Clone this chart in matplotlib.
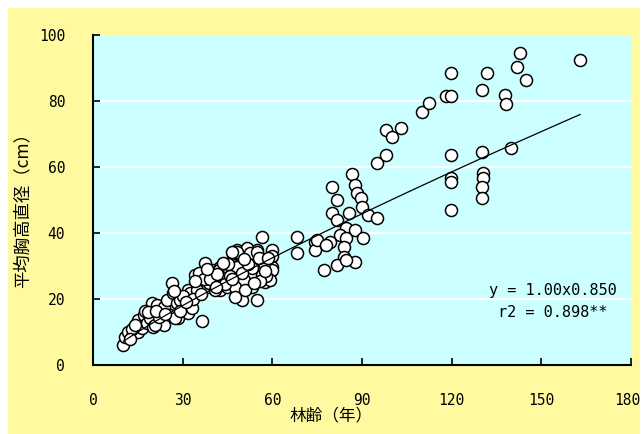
import numpy as np
import matplotlib.pyplot as plt
from matplotlib.patches import Rectangle
import matplotlib.transforms as mtransforms

plt.rcParams['font.family'] = ['DejaVu Sans Mono', 'Noto Sans CJK JP']

# stand age (years) and mean DBH (cm)
age_young = [10.2, 10.7, 11.8, 13.5, 15.2, 16.3, 15.2, 16.9, 18.0, 19.1, 19.7, 21.4,
             20.2, 22.5, 23.6, 23.6, 24.7, 26.4, 26.9, 28.1, 25.8, 28.6, 29.7, 30.8,
             31.9, 31.9, 20.8, 27.5, 33.1, 29.2, 36.4, 37.5, 34.2, 35.9, 40.3, 40.3,
             42.6, 42.6, 38.1, 45.9, 47.0, 48.2, 49.3, 49.3, 49.8, 52.1, 53.7, 53.2,
             54.9, 54.9, 56.6, 58.2, 59.3, 59.9, 57.7, 55.4, 51.5, 59.3, 59.9, 35.3,
             32.5, 34.8, 39.8, 38.7, 42.0, 43.1, 40.9, 44.8, 45.4, 47.6, 49.8, 51.5,
             48.7, 52.6, 53.2, 54.9, 48.2, 59.9, 56.6, 57.1, 53.2, 50.4, 47.6, 51.0,
             47.6, 59.3, 48.2, 46.5, 13.0, 17.5, 22.0, 30.0, 37.0, 44.0,
             12.5, 14.0, 18.5, 21.0, 24.0, 27.0, 29.0, 33.5, 36.0, 39.0, 41.5, 44.0,
             46.0, 50.0, 52.0, 55.5, 58.0, 60.0, 38.0, 41.0, 45.0, 56.0, 58.5, 43.5,
             46.5, 50.5, 54.0, 57.5, 34.0, 31.0]
dbh_young = [6.1, 8.6, 10.1, 9.6, 10.1, 11.1, 13.6, 15.2, 12.6, 14.1, 18.7, 18.2,
             11.6, 15.2, 12.1, 17.7, 19.7, 24.7, 21.7, 18.7, 15.2, 14.1, 20.7, 17.7,
             22.7, 15.7, 12.1, 14.1, 17.2, 19.7, 13.4, 30.8, 27.3, 24.8, 28.8, 25.8,
             29.8, 22.7, 23.7, 28.8, 33.3, 34.8, 25.8, 22.7, 19.7, 31.8, 27.3, 23.7,
             19.7, 34.8, 38.9, 30.3, 28.3, 34.8, 25.2, 30.3, 35.4, 31.8, 29.8, 27.8,
             21.7, 22.7, 27.8, 24.8, 28.8, 25.8, 22.7, 23.7, 28.3, 33.8, 30.3, 24.8,
             26.8, 33.8, 27.8, 34.3, 34.3, 28.8, 27.3, 30.8, 29.3, 25.8, 23.7, 22.7,
             20.7, 25.8, 29.8, 34.3, 11.0, 16.5, 14.5, 21.0, 26.0, 26.5,
             8.0, 12.0, 16.0, 16.5, 15.5, 22.5, 16.5, 20.0, 21.5, 26.0, 27.5, 24.5,
             27.0, 28.0, 30.5, 32.5, 27.0, 33.0, 29.0, 23.5, 30.5, 25.5, 32.5, 31.0,
             26.0, 32.0, 25.0, 28.5, 25.5, 19.0]

age_mid = [68.3, 68.3, 74.4, 74.4, 77.2, 79.8, 81.7, 86.5, 87.8, 88.2, 89.5, 90.1,
           80.0, 85.6, 92.0, 94.9, 81.7, 84.5, 87.8, 82.8, 84.5, 90.4, 75.0, 79.4,
           77.8, 83.9, 83.9, 87.8, 81.7, 84.5]
dbh_mid = [38.9, 33.8, 37.4, 34.8, 28.8, 53.8, 50.0, 57.9, 54.5, 52.0, 50.5, 48.0,
           46.2, 46.0, 45.5, 44.4, 43.9, 41.4, 40.9, 39.4, 38.4, 38.4, 37.9, 37.4,
           36.4, 35.9, 32.8, 31.3, 30.3, 31.8]

age_old = [94.9, 97.9, 102.9, 97.9, 99.9, 110.2, 112.4, 118.0, 119.9, 119.7, 119.7,
           119.7, 119.7, 119.7, 130.6, 130.6, 130.1, 130.1, 130.1, 130.1, 131.7, 137.9,
           138.1, 139.8, 142.9, 142.0, 144.8, 163.0]
dbh_old = [61.1, 63.6, 71.7, 71.2, 69.0, 76.8, 79.3, 81.6, 81.6, 88.6, 63.6, 56.6,
           55.5, 47.0, 58.1, 56.6, 54.0, 50.5, 64.6, 83.3, 88.6, 81.8, 79.1, 65.7,
           94.5, 90.2, 86.4, 92.4]

age = age_young + age_mid + age_old
dbh = dbh_young + dbh_mid + dbh_old

# fitted power curve shown on the chart: y = a * x^b
coef_a = 1.00
coef_b = 0.850
fit_range = [10.2, 163.0]

xticks = [0, 30, 60, 90, 120, 150, 180]
yticks = [0, 20, 40, 60, 80, 100]

fig = plt.figure(figsize=(6.42, 4.34), dpi=100)
fig.patch.set_facecolor('white')
fig.patches.append(Rectangle((8/642, 0), 632/642, 426/434, transform=fig.transFigure,
                             facecolor='#fffaa0', edgecolor='none', zorder=-10))

ax = fig.add_axes([93/642, 69/434, 538/642, 330/434])
ax.set_facecolor('#ccffff')

for g in [20, 40, 60, 80]:
    ax.axhline(g, color='white', lw=1.5, zorder=1)

ax.scatter(age, dbh, s=75, marker='o', facecolor='white', edgecolor='black',
           linewidths=1.1, zorder=3)

xs = np.linspace(fit_range[0], fit_range[1], 200)
ax.plot(xs, coef_a * xs ** coef_b, color='black', lw=0.9, zorder=4)

ax.set_xlim(0, 180)
ax.set_ylim(0, 100)
ax.set_xticks(xticks)
ax.set_yticks(yticks)
ax.tick_params(direction='in', length=5, width=1.2, labelsize=10.5)
ax.tick_params(axis='x', pad=20)
ax.tick_params(axis='y', pad=20)
for s in ['top', 'right']:
    ax.spines[s].set_visible(False)
for s in ['left', 'bottom']:
    ax.spines[s].set_linewidth(1.5)

# nudge the last x label so it stays inside the picture
fig.canvas.draw()
last = ax.get_xticklabels()[-1]
last.set_transform(last.get_transform() + mtransforms.ScaledTranslation(-4/100, 0, fig.dpi_scale_trans))

ax.text(0.855, 0.225, 'y = 1.00x0.850', transform=ax.transAxes, ha='center',
        va='center', fontsize=11)
ax.text(0.855, 0.158, 'r2 = 0.898**', transform=ax.transAxes, ha='center',
        va='center', fontsize=11)

fig.text(22/642, 1 - 206/434, '平均胸高直径（cm）', rotation=90, ha='center', va='center',
         fontsize=12.5, family=['Noto Sans CJK JP', 'DejaVu Sans'])
fig.text(331/642, 1 - 416/434, '林齢（年）', ha='center', va='center',
         fontsize=12, family=['Noto Sans CJK JP', 'DejaVu Sans'])

fig.savefig('out.png', dpi=100)
